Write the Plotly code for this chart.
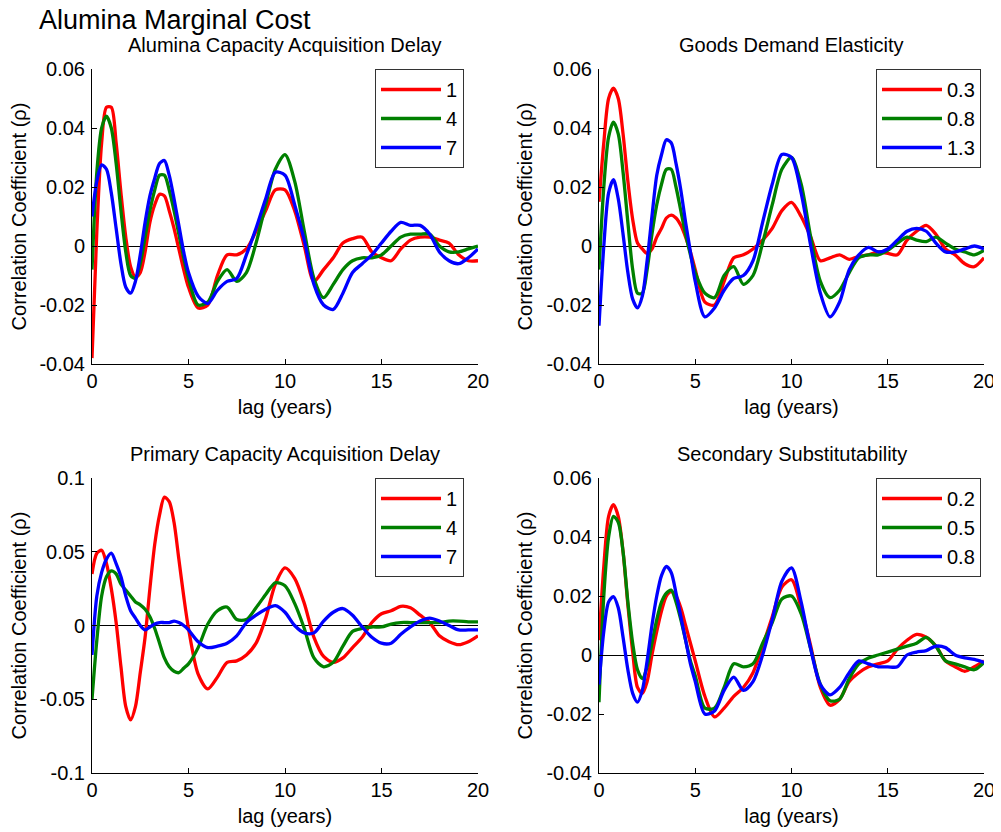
import plotly.graph_objects as go

# ---------------- data ----------------
lag = [0, 0.25, 0.5, 0.75, 1, 1.25, 1.5, 1.75, 2, 2.25, 2.5, 2.75, 3, 3.25, 3.5, 3.75,
       4, 4.25, 4.5, 4.75, 5, 5.5, 6, 6.5, 7, 7.5, 8, 8.5, 9, 9.5, 10, 10.5, 11, 11.5,
       12, 12.5, 13, 13.5, 14, 14.5, 15, 15.5, 16, 16.5, 17, 17.5, 18, 18.5, 19, 19.5, 20]

main_title = "Alumina Marginal Cost"
panel_titles = ["Alumina Capacity Acquisition Delay", "Goods Demand Elasticity",
                "Primary Capacity Acquisition Delay", "Secondary Substitutability"]

labels_p1 = ["1", "4", "7"]
labels_p2 = ["0.3", "0.8", "1.3"]
labels_p3 = ["1", "4", "7"]
labels_p4 = ["0.2", "0.5", "0.8"]

# Panel 1: Alumina Capacity Acquisition Delay
p1_red = [-0.038, 0.005, 0.035, 0.047, 0.047, 0.035, 0.018, 0.003, -0.007, -0.0105, -0.009, -0.002,
          0.008, 0.014, 0.0175, 0.017, 0.012, 0.006, -0.001, -0.008, -0.014, -0.021, -0.020, -0.010,
          -0.003, -0.003, -0.001, 0.005, 0.012, 0.019, 0.019, 0.012, 0.0, -0.012, -0.008, -0.004,
          0.001, 0.0025, 0.003, -0.002, -0.004, -0.005, -0.001, 0.002, 0.003, 0.003, 0.002, 0.001,
          -0.003, -0.005, -0.005]
p1_green = [-0.008, 0.025, 0.040, 0.044, 0.040, 0.028, 0.012, -0.002, -0.010, -0.011, -0.006, 0.003,
            0.012, 0.019, 0.024, 0.024, 0.019, 0.012, 0.004, -0.004, -0.011, -0.020, -0.019, -0.012,
            -0.008, -0.012, -0.009, 0.001, 0.014, 0.026, 0.031, 0.022, 0.005, -0.011, -0.0175, -0.013,
            -0.008, -0.005, -0.004, -0.004, -0.003, 0.0, 0.003, 0.004, 0.004, 0.004, 0.0, -0.002,
            -0.002, -0.001, 0.0]
p1_blue = [0.010, 0.022, 0.0275, 0.026, 0.018, 0.006, -0.006, -0.014, -0.016, -0.012, -0.003, 0.008,
           0.017, 0.023, 0.028, 0.029, 0.024, 0.016, 0.007, -0.002, -0.009, -0.017, -0.0195, -0.015,
           -0.012, -0.011, -0.003, 0.006, 0.016, 0.025, 0.024, 0.014, 0.002, -0.013, -0.020, -0.0215,
           -0.016, -0.009, -0.006, -0.003, 0.001, 0.005, 0.008, 0.007, 0.007, 0.004, -0.002, -0.005,
           -0.006, -0.004, -0.001]

# Panel 2: Goods Demand Elasticity
p2_red = [0.015, 0.035, 0.050, 0.0535, 0.050, 0.038, 0.022, 0.009, 0.001, -0.001, -0.0025, -0.001,
          0.003, 0.006, 0.0095, 0.0105, 0.0095, 0.007, 0.003, -0.002, -0.008, -0.019, -0.020, -0.012,
          -0.004, -0.003, -0.001, 0.002, 0.006, 0.012, 0.0148, 0.010, 0.003, -0.005, -0.004, -0.003,
          -0.0045, -0.0035, -0.003, -0.002, -0.0025, -0.003, 0.002, 0.005, 0.007, 0.004, -0.001,
          -0.003, -0.006, -0.007, -0.004]
p2_green = [-0.008, 0.020, 0.037, 0.042, 0.038, 0.025, 0.008, -0.008, -0.016, -0.016, -0.008, 0.004,
            0.014, 0.021, 0.026, 0.026, 0.020, 0.012, 0.004, -0.003, -0.009, -0.016, -0.0175, -0.010,
            -0.007, -0.013, -0.010, 0.001, 0.014, 0.026, 0.030, 0.021, 0.003, -0.012, -0.0175, -0.015,
            -0.009, -0.004, -0.003, -0.003, -0.0015, 0.001, 0.003, 0.002, 0.0015, 0.003, 0.001, -0.001,
            -0.002, -0.003, -0.0015]
p2_blue = [-0.027, 0.0, 0.018, 0.0225, 0.016, 0.004, -0.009, -0.018, -0.021, -0.017, -0.005, 0.010,
           0.024, 0.031, 0.036, 0.035, 0.028, 0.019, 0.008, -0.002, -0.012, -0.024, -0.021, -0.015,
           -0.011, -0.010, -0.005, 0.008, 0.021, 0.031, 0.030, 0.018, 0.0, -0.016, -0.024, -0.019,
           -0.008, -0.003, -0.0005, -0.002, -0.001, 0.002, 0.005, 0.006, 0.005, 0.001, -0.002, -0.002,
           -0.001, 0.0, -0.001]

# Panel 3: Primary Capacity Acquisition Delay
p3_red = [0.035, 0.049, 0.051, 0.042, 0.025, 0.002, -0.028, -0.055, -0.064, -0.055, -0.032, -0.008,
          0.025, 0.055, 0.075, 0.087, 0.084, 0.070, 0.045, 0.020, -0.002, -0.033, -0.043, -0.035,
          -0.025, -0.024, -0.020, -0.012, 0.005, 0.028, 0.039, 0.032, 0.015, -0.008, -0.021, -0.025,
          -0.022, -0.015, -0.008, 0.002, 0.008, 0.010, 0.013, 0.012, 0.007, 0.002, -0.007, -0.011,
          -0.013, -0.011, -0.007]
p3_green = [-0.050, -0.010, 0.020, 0.033, 0.037, 0.035, 0.028, 0.024, 0.020, 0.016, 0.014, 0.011,
            0.006, -0.002, -0.012, -0.022, -0.028, -0.031, -0.032, -0.029, -0.026, -0.015, 0.001, 0.010,
            0.0125, 0.004, 0.004, 0.012, 0.021, 0.029, 0.027, 0.015, -0.002, -0.022, -0.028, -0.025,
            -0.014, -0.004, -0.002, -0.001, -0.001, 0.001, 0.002, 0.002, 0.002, 0.002, 0.002, 0.003,
            0.003, 0.0025, 0.0025]
p3_blue = [-0.020, 0.020, 0.036, 0.045, 0.049, 0.042, 0.033, 0.020, 0.010, 0.005, 0.0, -0.003,
           -0.001, 0.001, 0.002, 0.002, 0.002, 0.003, 0.002, 0.0, -0.003, -0.011, -0.015, -0.014,
           -0.012, -0.007, 0.002, 0.007, 0.011, 0.0135, 0.009, 0.0, -0.005, -0.005, 0.003, 0.009,
           0.0115, 0.007, -0.001, -0.008, -0.012, -0.012, -0.006, -0.001, 0.003, 0.005, 0.003, 0.0,
           -0.003, -0.003, -0.003]

# Panel 4: Secondary Substitutability
p4_red = [0.005, 0.030, 0.047, 0.051, 0.047, 0.035, 0.017, 0.001, -0.011, -0.013, -0.009, 0.0,
          0.008, 0.015, 0.020, 0.0215, 0.020, 0.016, 0.010, 0.004, -0.002, -0.014, -0.021, -0.018,
          -0.014, -0.011, -0.006, 0.003, 0.013, 0.023, 0.0255, 0.016, 0.003, -0.011, -0.017, -0.015,
          -0.009, -0.006, -0.004, -0.003, -0.002, 0.002, 0.005, 0.007, 0.006, 0.003, -0.002, -0.004,
          -0.0055, -0.004, -0.002]
p4_green = [-0.016, 0.020, 0.040, 0.047, 0.045, 0.035, 0.018, 0.004, -0.005, -0.008, -0.004, 0.004,
            0.012, 0.018, 0.021, 0.022, 0.018, 0.012, 0.005, -0.002, -0.007, -0.018, -0.018, -0.011,
            -0.003, -0.004, -0.003, 0.004, 0.011, 0.019, 0.020, 0.014, 0.002, -0.010, -0.0155, -0.015,
            -0.008, -0.003, -0.001, 0.0, 0.001, 0.002, 0.003, 0.004, 0.006, 0.003, -0.002, -0.003,
            -0.004, -0.005, -0.0025]
p4_blue = [-0.010, 0.008, 0.018, 0.0198, 0.016, 0.006, -0.005, -0.013, -0.016, -0.012, -0.002, 0.010,
           0.020, 0.027, 0.030, 0.028, 0.021, 0.013, 0.005, -0.003, -0.009, -0.020, -0.019, -0.012,
           -0.0075, -0.012, -0.009, 0.0, 0.012, 0.025, 0.0295, 0.018, 0.002, -0.010, -0.0135, -0.011,
           -0.006, -0.002, -0.003, -0.004, -0.004, -0.004, 0.0, 0.001, 0.0015, 0.003, 0.0025, 0.0,
           -0.001, -0.0015, -0.0025]

x_tickvals = [0, 5, 10, 15, 20]
x_ticktext = ["0", "5", "10", "15", "20"]
y_tickvals_a = [-0.04, -0.02, 0, 0.02, 0.04, 0.06]
y_ticktext_a = ["-0.04", "-0.02", "0", "0.02", "0.04", "0.06"]
y_tickvals_b = [-0.1, -0.05, 0, 0.05, 0.1]
y_ticktext_b = ["-0.1", "-0.05", "0", "0.05", "0.1"]

x_label = "lag (years)"
y_label = "Correlation Coefficient (\u03c1)"

# ---------------- layout geometry ----------------
# the page body has an 8px margin, so the figure is drawn 8px in from the top-left
OFF = 8
W, H = 1001 - OFF, 832 - OFF
FONT = "Liberation Sans, Arial, sans-serif"
colors = ["#FF0000", "#008000", "#0000FF"]

def fx(px):
    return (px - OFF) / W

def fy(py):
    return (H + OFF - py) / H

col_px = [(92, 478), (599, 984)]
row_px = [(69, 364), (478, 773)]
legend_right_px = [464, 981]

panels = [
    (p1_red, p1_green, p1_blue, labels_p1, y_tickvals_a, y_ticktext_a, [-0.04, 0.06]),
    (p2_red, p2_green, p2_blue, labels_p2, y_tickvals_a, y_ticktext_a, [-0.04, 0.06]),
    (p3_red, p3_green, p3_blue, labels_p3, y_tickvals_b, y_ticktext_b, [-0.1, 0.1]),
    (p4_red, p4_green, p4_blue, labels_p4, y_tickvals_a, y_ticktext_a, [-0.04, 0.06]),
]

fig = go.Figure()
layout = dict(
    template="none",
    width=W, height=H,
    margin=dict(l=0, r=0, t=0, b=0, pad=0, autoexpand=False),
    paper_bgcolor="white", plot_bgcolor="white",
    font=dict(family=FONT, size=20, color="black"),
    title=dict(text=main_title, x=fx(39), xanchor="left", xref="paper",
               y=fy(20), yanchor="middle", yref="container", automargin=False,
               font=dict(family=FONT, size=27, color="black")),
    showlegend=True,
)
annotations = []

for i, (r, g, b, labs, ytv, ytt, yr) in enumerate(panels):
    k = i + 1
    sfx = "" if k == 1 else str(k)
    col = i % 2
    row = i // 2
    x0, x1 = col_px[col]
    y0, y1 = row_px[row]
    legname = "legend" + sfx
    for series, lab, c in zip((r, g, b), labs, colors):
        fig.add_trace(go.Scatter(
            x=lag, y=series, name=lab, mode="lines",
            line=dict(color=c, width=3.3, shape="spline", smoothing=0.8),
            xaxis="x" + sfx, yaxis="y" + sfx, legend=legname,
        ))
    layout["xaxis" + sfx] = dict(
        domain=[fx(x0), fx(x1)], anchor="y" + sfx, range=[0, 20], automargin=False,
        tickvals=x_tickvals, ticktext=x_ticktext,
        ticks="inside", ticklen=5, tickcolor="black", tickwidth=1,
        showline=True, linecolor="black", linewidth=1, mirror=False,
        showgrid=False, zeroline=False, ticklabelstandoff=-1,
        tickfont=dict(size=20, family=FONT, color="black"),
        title=dict(text=x_label, standoff=8, font=dict(size=20, family=FONT, color="black")),
    )
    layout["yaxis" + sfx] = dict(
        domain=[fy(y1), fy(y0)], anchor="x" + sfx, range=yr, automargin=False,
        tickvals=ytv, ticktext=ytt,
        ticks="inside", ticklen=5, tickcolor="black", tickwidth=1,
        showline=True, linecolor="black", linewidth=1, mirror=False,
        showgrid=False, zeroline=True, zerolinecolor="black", zerolinewidth=1,
        ticklabelstandoff=2,
        tickfont=dict(size=20, family=FONT, color="black"),
        title=dict(text=y_label, standoff=8, font=dict(size=20, family=FONT, color="black")),
    )
    layout[legname] = dict(
        x=fx(legend_right_px[col]), xanchor="right", y=fy(y0), yanchor="top",
        bgcolor="white", bordercolor="#333333", borderwidth=1,
        font=dict(size=20, family=FONT, color="black"),
        tracegroupgap=0, itemwidth=60,
    )
    annotations.append(dict(
        text=panel_titles[i], x=fx((x0 + x1) / 2), y=fy(y0), xref="paper", yref="paper",
        xanchor="center", yanchor="bottom", yshift=11, showarrow=False,
        font=dict(size=20, family=FONT, color="black"),
    ))

layout["annotations"] = annotations
fig.update_layout(**layout)
fig.write_html("out.html")
